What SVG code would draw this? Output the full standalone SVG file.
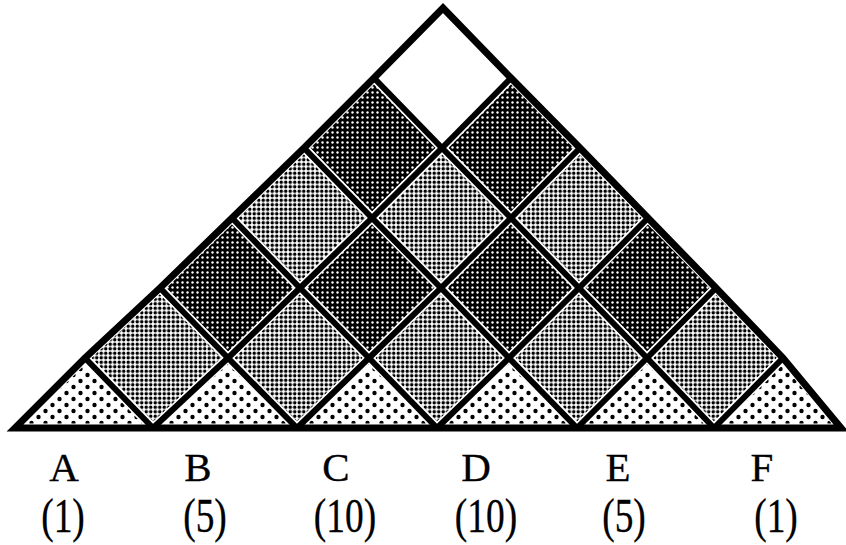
<svg xmlns="http://www.w3.org/2000/svg" width="846" height="545" viewBox="0 0 846 545">
<style>
.cell{stroke:#fff;stroke-width:9;stroke-linejoin:miter}
.dark{fill:url(#pDark)}
.light{fill:url(#pLight)}
.dot{fill:url(#pDot)}
.top{fill:#fff}
.ln{fill:none;stroke:#000;stroke-width:6;stroke-linecap:butt;stroke-linejoin:miter}
.outer{fill:none;stroke:#000;stroke-width:7;stroke-linejoin:miter}
.let{font-family:"Liberation Serif","Times New Roman",serif;font-size:41px;fill:#000;stroke:#000;stroke-width:0.3;text-anchor:middle}
.num{font-family:"Liberation Serif","Times New Roman",serif;font-size:48px;fill:#000;stroke:#000;stroke-width:0.3;text-anchor:middle}
</style>
<defs>
<pattern id="pDark" patternUnits="userSpaceOnUse" width="5" height="5"><rect width="5" height="5" fill="#000"/><circle cx="2.5" cy="2.5" r="1.2" fill="#fff"/></pattern>
<pattern id="pLight" patternUnits="userSpaceOnUse" width="4.5" height="4.5"><rect width="4.5" height="4.5" fill="#fff"/><circle cx="2.25" cy="2.25" r="1.75" fill="#000"/></pattern>
<pattern id="pDot" patternUnits="userSpaceOnUse" width="14" height="12"><rect width="14" height="12" fill="#fff"/><circle cx="3.5" cy="3" r="2.2" fill="#000"/><circle cx="10.5" cy="9" r="2.2" fill="#000"/></pattern>
</defs>
<rect width="846" height="545" fill="#fff"/>
<g id="cells">
<g id="cell-top"><polygon class="cell top" points="443,8 511,78 442,148 374,78"/></g>
<g id="cell-1-0"><polygon class="cell dark" points="511,78 580,148 511,218 442,148"/></g>
<g id="cell-0-1"><polygon class="cell dark" points="374,78 442,148 372,218 304,148"/></g>
<g id="cell-2-0"><polygon class="cell light" points="580,148 648,218 579,288 511,218"/></g>
<g id="cell-1-1"><polygon class="cell light" points="442,148 511,218 441,288 372,218"/></g>
<g id="cell-0-2"><polygon class="cell light" points="304,148 372,218 300,288 232,218"/></g>
<g id="cell-3-0"><polygon class="cell dark" points="648,218 716,288 647,358 579,288"/></g>
<g id="cell-2-1"><polygon class="cell dark" points="511,218 579,288 509,358 441,288"/></g>
<g id="cell-1-2"><polygon class="cell dark" points="372,218 441,288 369,358 300,288"/></g>
<g id="cell-0-3"><polygon class="cell dark" points="232,218 300,288 228,358 160,288"/></g>
<g id="cell-4-0"><polygon class="cell light" points="716,288 783,358 714,428 647,358"/></g>
<g id="cell-3-1"><polygon class="cell light" points="579,288 647,358 577,428 509,358"/></g>
<g id="cell-2-2"><polygon class="cell light" points="441,288 509,358 437,428 369,358"/></g>
<g id="cell-1-3"><polygon class="cell light" points="300,288 369,358 297,428 228,358"/></g>
<g id="cell-0-4"><polygon class="cell light" points="160,288 228,358 153,428 85,358"/></g>
<g id="cell-F"><polygon class="cell dot" points="783,358 841,428 714,428"/></g>
<g id="cell-E"><polygon class="cell dot" points="647,358 714,428 577,428"/></g>
<g id="cell-D"><polygon class="cell dot" points="509,358 577,428 437,428"/></g>
<g id="cell-C"><polygon class="cell dot" points="369,358 437,428 297,428"/></g>
<g id="cell-B"><polygon class="cell dot" points="228,358 297,428 153,428"/></g>
<g id="cell-A"><polygon class="cell dot" points="85,358 153,428 15,428"/></g>
</g>
<g id="connectors">
<polyline class="ln" points="374,78 442,148 511,218 579,288 647,358 714,428"/>
<polyline class="ln" points="304,148 372,218 441,288 509,358 577,428"/>
<polyline class="ln" points="232,218 300,288 369,358 437,428"/>
<polyline class="ln" points="160,288 228,358 297,428"/>
<polyline class="ln" points="85,358 153,428"/>
<polyline class="ln" points="511,78 442,148 372,218 300,288 228,358 153,428"/>
<polyline class="ln" points="580,148 511,218 441,288 369,358 297,428"/>
<polyline class="ln" points="648,218 579,288 509,358 437,428"/>
<polyline class="ln" points="716,288 647,358 577,428"/>
<polyline class="ln" points="783,358 714,428"/>
<polygon class="outer" points="443,8 511,78 580,148 648,218 716,288 783,358 841,428 15,428 85,358 160,288 232,218 304,148 374,78"/>
</g>
<g id="label-A"><text class="let" x="64" y="481">A</text><text class="num" transform="translate(63,532) scale(0.78,1)">(1)</text></g>
<g id="label-B"><text class="let" x="198" y="481">B</text><text class="num" transform="translate(205,532) scale(0.78,1)">(5)</text></g>
<g id="label-C"><text class="let" x="336" y="481">C</text><text class="num" transform="translate(345,532) scale(0.78,1)">(10)</text></g>
<g id="label-D"><text class="let" x="476" y="481">D</text><text class="num" transform="translate(486,532) scale(0.78,1)">(10)</text></g>
<g id="label-E"><text class="let" x="618" y="481">E</text><text class="num" transform="translate(624,532) scale(0.78,1)">(5)</text></g>
<g id="label-F"><text class="let" x="762" y="481">F</text><text class="num" transform="translate(776,532) scale(0.78,1)">(1)</text></g>
</svg>
